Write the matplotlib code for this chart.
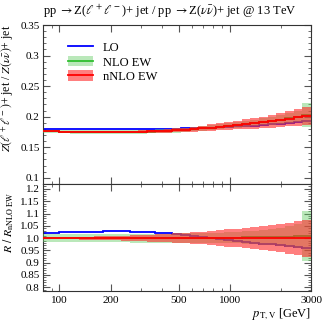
import numpy as np
import matplotlib
matplotlib.use("Agg")
import matplotlib.pyplot as plt
from matplotlib.lines import Line2D
from matplotlib.patches import Patch
from matplotlib.ticker import FixedLocator, MultipleLocator, NullFormatter

plt.rcParams['font.family'] = ['Liberation Serif', 'DejaVu Serif']
plt.rcParams['mathtext.fontset'] = 'stix'

# bin edges in pT,V [GeV]
edges = [80, 90, 100, 115, 130, 145, 160, 180, 205, 230, 260, 290, 325, 365,
         410, 460, 520, 585, 655, 735, 830, 930, 1045, 1175, 1320, 1485, 1670,
         1880, 2110, 2370, 2665, 3000]

# R = Z(ll)+jet / Z(nunu)+jet
lo = [0.1797, 0.1797, 0.1797, 0.1797, 0.1798, 0.1799, 0.1798, 0.1799, 0.1799,
      0.1800, 0.1800, 0.1800, 0.1800, 0.1801, 0.1802, 0.1804, 0.1807, 0.1811,
      0.1813, 0.1819, 0.1826, 0.1832, 0.1839, 0.1848, 0.1855, 0.1863, 0.1874,
      0.1887, 0.1901, 0.1913, 0.1927]
nlo = [0.1759, 0.1757, 0.1755, 0.1753, 0.1752, 0.1751, 0.1750, 0.1750, 0.1750,
       0.1751, 0.1752, 0.1754, 0.1756, 0.1760, 0.1766, 0.1774, 0.1784, 0.1795,
       0.1806, 0.1819, 0.1835, 0.1850, 0.1865, 0.1881, 0.1897, 0.1914, 0.1932,
       0.1953, 0.1976, 0.2001, 0.2028]
nnlo = [0.1760, 0.1758, 0.1756, 0.1754, 0.1753, 0.1752, 0.1751, 0.1751, 0.1751,
        0.1752, 0.1753, 0.1755, 0.1757, 0.1761, 0.1767, 0.1775, 0.1784, 0.1795,
        0.1806, 0.1819, 0.1833, 0.1847, 0.1861, 0.1876, 0.1891, 0.1907, 0.1924,
        0.1943, 0.1964, 0.1987, 0.2012]
# relative uncertainties (half width of band)
nlo_err = [0.017, 0.017, 0.017, 0.017, 0.017, 0.017, 0.017, 0.017, 0.017, 0.017,
           0.018, 0.018, 0.018, 0.019, 0.019, 0.020, 0.020, 0.020, 0.021, 0.021,
           0.021, 0.022, 0.023, 0.025, 0.027, 0.030, 0.033, 0.037, 0.042, 0.048,
           0.100]
nnlo_err = [0.004, 0.004, 0.005, 0.005, 0.006, 0.006, 0.007, 0.008, 0.009, 0.010,
            0.011, 0.012, 0.014, 0.015, 0.017, 0.019, 0.021, 0.024, 0.026, 0.029,
            0.032, 0.035, 0.038, 0.042, 0.046, 0.050, 0.054, 0.058, 0.063, 0.068,
            0.075]

lo = np.array(lo)
nlo = np.array(nlo)
nnlo = np.array(nnlo)
nlo_err = np.array(nlo_err)
nnlo_err = np.array(nnlo_err)

c_lo = '#0000ff'
c_nlo = '#2fbf2f'
c_nnlo = '#ff0000'
band_nlo = '#66cc66'
band_nnlo = '#ff2a2a'
a_nlo = 0.45
a_nnlo = 0.6

fig = plt.figure(figsize=(3.24, 3.25), dpi=100)
ax1 = fig.add_axes([0.1327, 0.4338, 0.8273, 0.4892])
ax2 = fig.add_axes([0.1327, 0.1055, 0.8273, 0.3283])


def draw(ax, scale):
    ax.stairs(lo / scale, edges, baseline=None, color=c_lo, lw=1.3, zorder=2)
    ax.stairs(nlo * (1 + nlo_err) / scale, edges, baseline=nlo * (1 - nlo_err) / scale,
              fill=True, color=band_nlo, alpha=a_nlo, lw=0, zorder=3)
    ax.stairs(nlo / scale, edges, baseline=None, color=c_nlo, lw=1.3, zorder=4)
    ax.stairs(nnlo * (1 + nnlo_err) / scale, edges, baseline=nnlo * (1 - nnlo_err) / scale,
              fill=True, color=band_nnlo, alpha=a_nnlo, lw=0, zorder=5)
    ax.stairs(nnlo / scale, edges, baseline=None, color=c_nnlo, lw=1.3, zorder=6)


draw(ax1, 1.0)
draw(ax2, nnlo)

for ax in (ax1, ax2):
    ax.set_xscale('log')
    ax.set_xlim(80, 3000)
    ax.xaxis.set_major_locator(FixedLocator([100, 200, 500, 1000, 3000]))
    ax.xaxis.set_minor_locator(FixedLocator([90, 300, 400, 600, 700, 800, 900, 2000]))
    ax.xaxis.set_minor_formatter(NullFormatter())
    ax.tick_params(which='both', direction='in', top=True, right=True,
                   color='#555555', labelsize=8, pad=2.5)
    ax.tick_params(which='major', length=5, width=0.8)
    ax.tick_params(which='minor', length=2.5, width=0.6)
    for s in ax.spines.values():
        s.set_linewidth(0.8)
        s.set_color('#333333')

ax1.set_ylim(0.0897, 0.35)
ax1.yaxis.set_major_locator(FixedLocator([0.1, 0.15, 0.2, 0.25, 0.3, 0.35]))
ax1.set_yticklabels(['0.1', '0.15', '0.2', '0.25', '0.3', '0.35'])
ax1.yaxis.set_minor_locator(MultipleLocator(0.01))
ax1.set_xticklabels([])

ax2.set_ylim(0.786, 1.22)
ax2.yaxis.set_major_locator(FixedLocator([0.8, 0.85, 0.9, 0.95, 1.0, 1.05, 1.1, 1.15, 1.2]))
ax2.set_yticklabels(['0.8', '0.85', '0.9', '0.95', '1.0', '1.05', '1.1', '1.15', '1.2'])
ax2.yaxis.set_minor_locator(MultipleLocator(0.01))
ax2.set_xticklabels(['100', '200', '500', '1000', '3000'])
ax2.tick_params(axis='x', pad=4)

ax1.set_title(r'pp $\rightarrow$Z($\ell^+\ell^-$)+ jet / pp $\rightarrow$Z($\nu\bar{\nu}$)+ jet @ 13 TeV',
              loc='left', fontsize=9, pad=7)
ax1.set_ylabel(r'$Z(\ell^+\ell^-)$+ jet / $Z(\nu\bar{\nu})$+ jet', loc='top', fontsize=8.5)
ax1.yaxis.set_label_coords(-0.1, 1.0)
ax2.set_ylabel(r'$R\ /\ R_{\mathrm{nNLO\ EW}}$', loc='top', fontsize=8.5)
ax2.yaxis.set_label_coords(-0.1, 0.93)
ax2.set_xlabel(r'$p_{\mathrm{T,V}}$ [GeV]', loc='right', fontsize=9, labelpad=1)

handles = [
    Line2D([], [], color=c_lo, lw=1.3),
    (Patch(color=band_nlo, alpha=a_nlo, lw=0), Line2D([], [], color=c_nlo, lw=1.3)),
    (Patch(color=band_nnlo, alpha=a_nnlo, lw=0), Line2D([], [], color=c_nnlo, lw=1.3)),
]
ax1.legend(handles, ['LO', 'NLO EW', 'nNLO EW'], loc='upper left',
           bbox_to_anchor=(0.06, 0.95), frameon=False, fontsize=9,
           handlelength=2.0, handleheight=0.9, labelspacing=0.15, borderpad=0.2)

fig.savefig('out.png', dpi=100)
